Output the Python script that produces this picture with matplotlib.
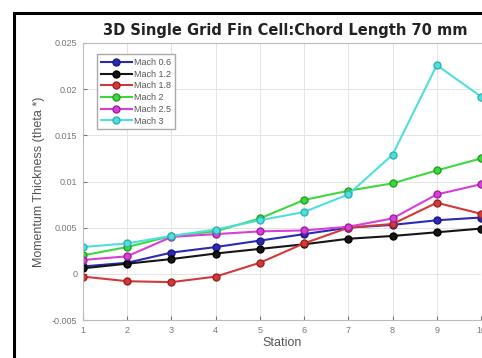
import numpy as np
import matplotlib
matplotlib.use('Agg')
from matplotlib import pyplot as plt
from matplotlib.patches import Rectangle

plt.rcParams['font.family'] = ['Liberation Sans', 'DejaVu Sans']

# momentum thickness at each station for every Mach number
stations = [1, 2, 3, 4, 5, 6, 7, 8, 9, 10]
mach_labels = ['Mach 0.6', 'Mach 1.2', 'Mach 1.8', 'Mach 2', 'Mach 2.5', 'Mach 3']
theta_m06 = [0.0008, 0.0012, 0.0023, 0.0029, 0.0036, 0.0043, 0.0050, 0.0053, 0.0058, 0.0061]
theta_m12 = [0.0006, 0.0011, 0.0016, 0.0022, 0.0027, 0.0032, 0.0038, 0.0041, 0.0045, 0.0049]
theta_m18 = [-0.0003, -0.0008, -0.0009, -0.0003, 0.0012, 0.0033, 0.0050, 0.0054, 0.0077, 0.0065]
theta_m20 = [0.0020, 0.0029, 0.0041, 0.0046, 0.0060, 0.0080, 0.0090, 0.0098, 0.0112, 0.0125]
theta_m25 = [0.0015, 0.0019, 0.0040, 0.0043, 0.0046, 0.0047, 0.0051, 0.0060, 0.0086, 0.0097]
theta_m30 = [0.0029, 0.0033, 0.0041, 0.0048, 0.0058, 0.0067, 0.0086, 0.0129, 0.0226, 0.0192]
yticks = [-0.005, 0, 0.005, 0.01, 0.015, 0.02, 0.025]
ytick_labels = ['-0.005', '0', '0.005', '0.01', '0.015', '0.02', '0.025']

series = [theta_m06, theta_m12, theta_m18, theta_m20, theta_m25, theta_m30]
colors = ['#2a2ab8', '#151515', '#d23a3a', '#3ed83e', '#d83ed8', '#4fdede']
edges = ['#1a1a80', '#000000', '#a02020', '#20a020', '#a020a0', '#30b0b0']

W, H = 482, 358
fig = plt.figure(figsize=(W / 100, H / 100), dpi=100)
fig.patch.set_facecolor('white')

# black frame round the figure window
fig.add_artist(Rectangle((14 / W, -0.02), 1.1, (H - 13) / H + 0.02, transform=fig.transFigure,
                         fill=False, edgecolor='black', linewidth=2.2))

ax = fig.add_axes([83 / W, 1 - 320 / H, (481 - 83) / W, (320 - 43) / H])
for y, c, e, lab in zip(series, colors, edges, mach_labels):
    ax.plot(stations, y, '-o', color=c, markerfacecolor=c, markeredgecolor=e,
            linewidth=1.5, markersize=5, label=lab)

ax.set_xlim(1, 10)
ax.set_ylim(-0.005, 0.025)
ax.set_xticks(stations)
ax.set_xticklabels([str(s) for s in stations])
ax.set_yticks(yticks)
ax.set_yticklabels(ytick_labels)
ax.grid(True, color='#e4e4e4', linewidth=0.7)
ax.set_axisbelow(True)
ax.tick_params(direction='in', length=3, labelsize=6.5, colors='#777777', pad=4)
for s in ax.spines.values():
    s.set_color('#bbbbbb')
    s.set_linewidth(0.8)
ax.spines['right'].set_visible(False)

ax.set_xlabel('Station', fontsize=9, color='#555555', labelpad=2)
ax.set_ylabel('Momentum Thickness (theta *)', fontsize=9, color='#555555', labelpad=5)
fig.text(285 / W, 1 - 30 / H, '3D Single Grid Fin Cell:Chord Length 70 mm',
         ha='center', va='center', fontsize=10.5, fontweight='bold', color='#222222',
         family='DejaVu Sans')

leg = ax.legend(loc='upper left', bbox_to_anchor=(0.025, 0.975), fontsize=6.5,
                frameon=True, fancybox=False, edgecolor='#aaaaaa', framealpha=1,
                handlelength=3.4, labelspacing=0.3, borderpad=0.4, handletextpad=0.3)
for t in leg.get_texts():
    t.set_color('#555555')

fig.savefig('out.png', dpi=100)
